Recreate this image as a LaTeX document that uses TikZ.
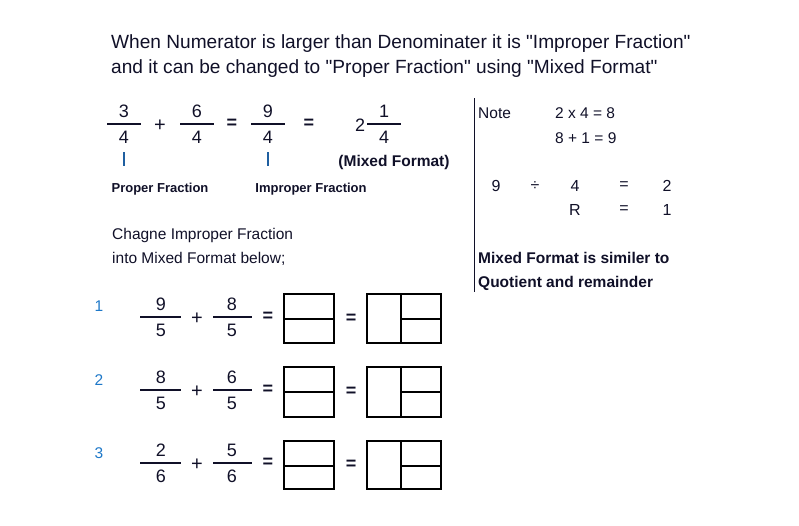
\documentclass[tikz,border=0pt]{standalone}
\usepackage{fontspec}
\setmainfont{Liberation Sans}
\definecolor{ink}{RGB}{16,16,40}
\definecolor{rowblue}{RGB}{30,120,200}
\definecolor{barblue}{RGB}{31,95,160}

\begin{document}
\begin{tikzpicture}[x=1pt,y=-1pt,
  title/.style={text=ink,inner sep=0pt,anchor=base west,font=\fontsize{19.1}{22}\selectfont},
  body/.style={text=ink,inner sep=0pt,anchor=base west,font=\fontsize{15.5}{18}\selectfont},
  bodybold/.style={body,font=\fontsize{15.5}{18}\selectfont\bfseries},
  tag/.style={text=ink,inner sep=0pt,anchor=base,font=\fontsize{13}{16}\selectfont\bfseries},
  digit/.style={text=ink,inner sep=0pt,font=\fontsize{18}{21}\selectfont},
  sym/.style={text=ink,inner sep=0pt,font=\fontsize{20}{23}\selectfont},
  eqsign/.style={sym,font=\fontsize{18}{21}\selectfont\bfseries},
  notenum/.style={text=ink,inner sep=0pt,font=\fontsize{16}{19}\selectfont},
  rowno/.style={text=rowblue,inner sep=0pt,font=\fontsize{15.5}{18}\selectfont},
  fracbar/.style={ink,line width=2pt},
  answer/.style={draw=black,line width=1.2pt}]
\useasboundingbox (0,0) rectangle (799,525);
% heading
\node[title] (head1) at (111,48) {When Numerator is larger than Denominater it is \textquotedbl Improper Fraction\textquotedbl};
\node[title] (head2) at (111,73) {and it can be changed to \textquotedbl Proper Fraction\textquotedbl\ using \textquotedbl Mixed Format\textquotedbl};
% worked example
\node[digit] (exAnum) at (124,111) {3};
\draw[fracbar] (107,124) -- (141,124);
\node[digit] (exAden) at (124,137) {4};
\node[sym] (exPlus) at (160,126) {+};
\node[digit] (exBnum) at (197,111) {6};
\draw[fracbar] (180,124) -- (214,124);
\node[digit] (exBden) at (197,137) {4};
\node[eqsign] (exEqA) at (232,124) {=};
\node[digit] (exCnum) at (268,111) {9};
\draw[fracbar] (251,124) -- (285,124);
\node[digit] (exCden) at (268,137) {4};
\node[eqsign] (exEqB) at (309,124) {=};
\node[digit] (exWhole) at (360,125) {2};
\node[digit] (exDnum) at (384,111) {1};
\draw[fracbar] (367,124) -- (401,124);
\node[digit] (exDden) at (384,137) {4};
\draw[barblue,line width=1.2pt] (124,152) -- (124,166);
\draw[barblue,line width=1.2pt] (268,152) -- (268,166);
\node[bodybold,anchor=base] (mixedTag) at (394,166) {(Mixed Format)};
\node[tag] (properTag) at (160,192) {Proper Fraction};
\node[tag] (improperTag) at (311,192) {Improper Fraction};
% note
\draw[ink,line width=1pt] (474,98) -- (474,292);
\node[body] (note) at (478,118) {Note};
\node[body] (noteA) at (555,118) {2 x 4 = 8};
\node[body] (noteB) at (555,143) {8 + 1 = 9};
\node[notenum] (divA) at (496,186) {9};
\node[notenum] (divOp) at (535,186) {÷};
\node[notenum] (divB) at (575,186) {4};
\node[notenum] (divEqA) at (624,186) {=};
\node[notenum] (divQ) at (667,186) {2};
\node[notenum] (divR) at (575,210) {R};
\node[notenum] (divEqB) at (624,210) {=};
\node[notenum] (divRem) at (667,210) {1};
\node[bodybold] (noteC) at (478,263) {Mixed Format is similer to};
\node[bodybold] (noteD) at (478,287) {Quotient and remainder};
% exercise
\node[body] (askA) at (112,239) {Chagne Improper Fraction};
\node[body] (askB) at (112,263) {into Mixed Format below;};
% row 1
\node[rowno] (rowA) at (99,306) {1};
\node[digit] (rowAnumA) at (161,304) {9};
\draw[fracbar] (140,317) -- (181,317);
\node[digit] (rowAdenA) at (161,330) {5};
\node[sym] (rowAplus) at (197,319) {+};
\node[digit] (rowAnumB) at (232,304) {8};
\draw[fracbar] (213,317) -- (252,317);
\node[digit] (rowAdenB) at (232,330) {5};
\node[eqsign] (rowAeqA) at (268,317) {=};
\draw[answer] (284,294) rectangle (334,343) (284,319) -- (334,319);
\node[eqsign] (rowAeqB) at (351,319) {=};
\draw[answer] (367,294) rectangle (441,343) (401,294) -- (401,343) (401,319) -- (441,319);
% row 2
\node[rowno] (rowB) at (99,380) {2};
\node[digit] (rowBnumA) at (161,377) {8};
\draw[fracbar] (140,390) -- (181,390);
\node[digit] (rowBdenA) at (161,403) {5};
\node[sym] (rowBplus) at (197,392) {+};
\node[digit] (rowBnumB) at (232,377) {6};
\draw[fracbar] (213,390) -- (252,390);
\node[digit] (rowBdenB) at (232,403) {5};
\node[eqsign] (rowBeqA) at (268,390) {=};
\draw[answer] (284,367) rectangle (334,417) (284,392) -- (334,392);
\node[eqsign] (rowBeqB) at (351,392) {=};
\draw[answer] (367,367) rectangle (441,417) (401,367) -- (401,417) (401,392) -- (441,392);
% row 3
\node[rowno] (rowC) at (99,453) {3};
\node[digit] (rowCnumA) at (161,450) {2};
\draw[fracbar] (140,463) -- (181,463);
\node[digit] (rowCdenA) at (161,476) {6};
\node[sym] (rowCplus) at (197,465) {+};
\node[digit] (rowCnumB) at (232,450) {5};
\draw[fracbar] (213,463) -- (252,463);
\node[digit] (rowCdenB) at (232,476) {6};
\node[eqsign] (rowCeqA) at (268,463) {=};
\draw[answer] (284,441) rectangle (334,489) (284,466) -- (334,466);
\node[eqsign] (rowCeqB) at (351,465) {=};
\draw[answer] (367,441) rectangle (441,489) (401,441) -- (401,489) (401,466) -- (441,466);
\end{tikzpicture}
\end{document}
